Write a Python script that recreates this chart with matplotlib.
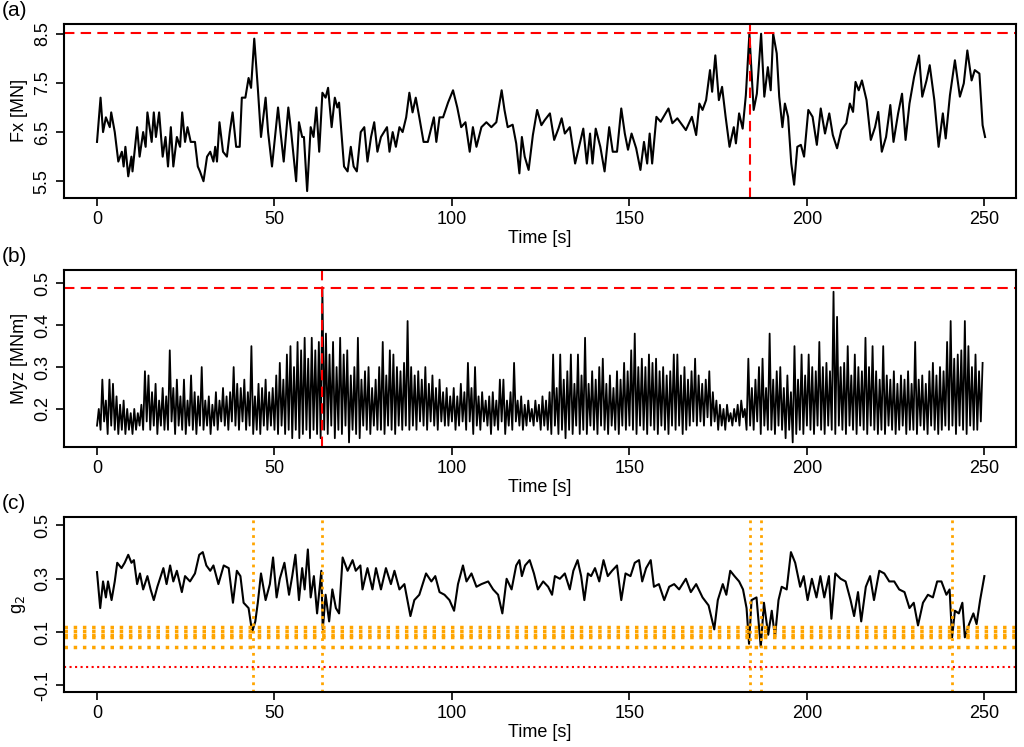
import numpy as np
import matplotlib.pyplot as plt

plt.rcParams['font.family'] = 'Liberation Sans'
plt.rcParams['axes.unicode_minus'] = False

# (a) Fx [MN]
fx_t = [0, 1, 1.7, 2.5, 3.6, 4, 5, 6, 7, 7.5, 8, 8.8, 9.7, 10, 11.3, 12, 13, 13.7, 14.2, 15.4,
        16, 16.6, 17.5, 18.5, 19.3, 20, 20.8, 21.5, 22.5, 23.4, 24, 24.8, 25.5, 26.4, 27.6, 28.4,
        29, 30, 31, 31.9, 32.8, 33.3, 33.8, 34.5, 35.5, 36.6, 37.4, 38.2, 39.2, 40.2, 40.8, 41.8,
        42.7, 43.4, 44.3, 45.3, 46.2, 47.5, 48.2, 49.3, 51, 51.7, 52.6, 53.9, 54.7, 56.1, 56.9,
        57.8, 58.3, 59.2, 60.2, 61, 61.8, 62.6, 63.5, 64.4, 65.1, 66.1, 67, 67.7, 68.2, 69.6, 70.6,
        71.5, 72.3, 73.2, 74.3, 75.3, 76.2, 77.2, 78.1, 79, 80, 81.7, 82.4, 83.3, 84.2, 85.2, 86.1,
        87.1, 88, 88.9, 89.8, 90.8, 92, 93.2, 94.9, 95.6, 96.5, 97.5, 98.9, 100.3, 101.5, 102.6,
        103.8, 105, 105.9, 106.9, 108.3, 109.7, 111.1, 112.5, 114, 114.8, 115.7, 117.1, 118.1, 119,
        119.7, 120.5, 121.6, 122.8, 124, 125.2, 126.1, 127.6, 128.8, 130, 130.9, 131.8, 133.2,
        134.7, 135.8, 137, 138, 138.9, 139.6, 140.5, 141.8, 143, 144.3, 145.3, 146.5, 147.7, 148.7,
        149.6, 150.6, 151.9, 153.1, 154.1, 155, 155.7, 156.4, 157.6, 158.8, 161, 162.1, 163.5,
        165.9, 167.6, 168.8, 169.7, 170.6, 171.6, 172.7, 173.3, 174.2, 175.2, 176.1, 177.1, 178.2,
        179.4, 180, 180.9, 181.9, 182.8, 183.8, 185, 185.9, 187.1, 188, 189, 189.8, 190.5, 191.5,
        192.2, 193.1, 193.8, 194.7, 195.6, 196.4, 197.3, 198.3, 199.2, 200.4, 201.6, 202.8, 203.9,
        205.1, 206.3, 207.3, 208.5, 209.7, 211.1, 212.1, 213, 213.7, 214.6, 215.5, 216.8, 218,
        219.2, 220.1, 221.1, 222.3, 223.5, 224.4, 225.7, 226.8, 227.8, 228.9, 230.2, 231.6, 232.5,
        233.7, 234.6, 235.9, 237.1, 238.3, 239.1, 240.3, 241.7, 243.1, 244.2, 245.2, 246.4, 247.3,
        248.6, 249.5, 250.2]
fx = [6.3, 7.2, 6.5, 6.8, 6.6, 6.9, 6.5, 5.9, 6.1, 5.8, 6.2, 5.6, 6.0, 5.7, 6.6, 6.0, 6.5, 6.2, 6.9, 6.3,
      6.9, 6.4, 6.9, 6.0, 6.4, 5.8, 6.6, 5.8, 6.4, 6.2, 6.9, 6.3, 6.6, 6.3, 6.3, 5.8,
      5.7, 5.5, 6.0, 6.1, 5.9, 6.2, 5.9, 6.7, 6.1, 6.0, 6.5, 6.9, 6.2, 6.2, 7.2, 7.2,
      7.6, 7.4, 8.4, 7.4, 6.4, 7.2, 6.5, 5.8, 7.0, 6.5, 5.9, 7.0, 6.5, 5.5, 6.7,
      6.4, 6.4, 5.3, 6.6, 6.4, 7.0, 6.1, 7.3, 7.2, 7.4, 6.6, 7.2, 7.0, 7.1, 5.8, 5.7,
      6.2, 5.8, 5.7, 6.5, 6.6, 5.9, 6.4, 6.7, 6.1, 6.4, 6.6, 6.1, 6.5, 6.2, 6.6, 6.5,
      6.8, 7.3, 6.9, 7.2, 6.8, 6.3, 6.3, 6.8, 6.3, 6.8, 6.8, 7.1, 7.35, 7.0, 6.6,
      6.7, 6.1, 6.6, 6.2, 6.6, 6.7, 6.6, 6.7, 7.35, 6.95, 6.6, 6.65, 6.27, 5.66,
      6.4, 6.0, 5.73, 6.44, 6.95, 6.64, 6.74, 6.88, 6.34, 6.57, 6.78, 6.47, 6.6,
      5.86, 6.2, 6.57, 5.86, 6.47, 5.86, 6.57, 6.2, 5.7, 6.6, 6.1, 6.1, 6.98, 6.47,
      6.14, 6.47, 6.17, 5.73, 6.3, 5.86, 6.47, 5.86, 6.81, 6.71, 6.98, 6.68, 6.78,
      6.54, 6.81, 6.44, 7.08, 6.95, 7.15, 7.76, 7.32, 8.06, 7.15, 7.42, 6.81, 6.2,
      6.6, 6.27, 6.88, 6.57, 7.25, 8.5, 6.95, 7.28, 8.5, 7.22, 7.82, 7.35, 8.5, 8.1,
      7.22, 6.6, 7.08, 6.81, 5.86, 5.43, 6.2, 6.24, 6.0, 6.95, 6.81, 6.24, 6.98,
      6.47, 6.88, 6.44, 6.17, 6.54, 6.68, 7.08, 6.91, 7.52, 7.35, 7.55, 7.15, 6.34,
      6.6, 6.91, 6.1, 6.4, 7.05, 6.3, 6.88, 7.28, 6.34, 7.08, 7.62, 8.06, 7.22,
      7.55, 7.86, 7.15, 6.2, 6.88, 6.37, 7.25, 7.96, 7.22, 7.49, 8.16, 7.55, 7.76,
      7.69, 6.64, 6.4]

# (b) Myz [MNm], per-second upper and lower swings
myz_hi = [0.20, 0.27, 0.22, 0.27, 0.26, 0.23, 0.21, 0.22, 0.20, 0.19,
          0.20, 0.19, 0.21, 0.29, 0.28, 0.24, 0.26, 0.22, 0.25, 0.23,
          0.34, 0.25, 0.27, 0.23, 0.27, 0.22, 0.28, 0.24, 0.23, 0.30,
          0.22, 0.23, 0.21, 0.24, 0.22, 0.25, 0.23, 0.24, 0.30, 0.26,
          0.25, 0.27, 0.24, 0.35, 0.23, 0.26, 0.25, 0.27, 0.24, 0.25,
          0.28, 0.31, 0.27, 0.33, 0.35, 0.30, 0.36, 0.34, 0.37, 0.32,
          0.37, 0.34, 0.36, 0.49, 0.38, 0.33, 0.36, 0.30, 0.37, 0.33,
          0.34, 0.28, 0.30, 0.37, 0.27, 0.29, 0.30, 0.25, 0.27, 0.30,
          0.36, 0.28, 0.34, 0.33, 0.30, 0.29, 0.31, 0.41, 0.30, 0.28,
          0.29, 0.27, 0.30, 0.26, 0.28, 0.25, 0.27, 0.24, 0.25, 0.23,
          0.25, 0.23, 0.26, 0.24, 0.31, 0.25, 0.30, 0.23, 0.24, 0.22,
          0.23, 0.24, 0.22, 0.27, 0.27, 0.22, 0.24, 0.31, 0.22, 0.23,
          0.21, 0.22, 0.20, 0.22, 0.21, 0.23, 0.22, 0.24, 0.33, 0.25,
          0.33, 0.27, 0.29, 0.33, 0.26, 0.33, 0.28, 0.37, 0.26, 0.29,
          0.27, 0.30, 0.32, 0.26, 0.28, 0.25, 0.29, 0.27, 0.31, 0.29,
          0.34, 0.38, 0.30, 0.32, 0.30, 0.33, 0.31, 0.32, 0.29, 0.30,
          0.28, 0.29, 0.33, 0.33, 0.28, 0.30, 0.27, 0.29, 0.32, 0.28,
          0.26, 0.27, 0.29, 0.24, 0.22, 0.21, 0.20, 0.21, 0.19, 0.20,
          0.21, 0.22, 0.20, 0.32, 0.25, 0.27, 0.30, 0.32, 0.25, 0.38,
          0.27, 0.29, 0.30, 0.25, 0.28, 0.24, 0.35, 0.27, 0.33, 0.28,
          0.33, 0.30, 0.29, 0.36, 0.30, 0.31, 0.29, 0.48, 0.42, 0.30,
          0.31, 0.35, 0.28, 0.33, 0.30, 0.29, 0.37, 0.30, 0.35, 0.29,
          0.27, 0.35, 0.28, 0.27, 0.29, 0.26, 0.28, 0.27, 0.29, 0.26,
          0.36, 0.27, 0.28, 0.26, 0.29, 0.31, 0.28, 0.30, 0.29, 0.36,
          0.41, 0.32, 0.33, 0.34, 0.41, 0.35, 0.30, 0.33, 0.29, 0.31]
myz_lo = [0.16, 0.15, 0.17, 0.14, 0.16, 0.15, 0.14, 0.15, 0.14, 0.15,
          0.14, 0.15, 0.16, 0.15, 0.17, 0.15, 0.16, 0.14, 0.16, 0.15,
          0.15, 0.17, 0.14, 0.16, 0.15, 0.14, 0.16, 0.15, 0.14, 0.16,
          0.15, 0.16, 0.14, 0.16, 0.15, 0.17, 0.16, 0.15, 0.17, 0.16,
          0.15, 0.17, 0.15, 0.16, 0.14, 0.15, 0.14, 0.16, 0.15, 0.16,
          0.15, 0.14, 0.16, 0.14, 0.15, 0.13, 0.15, 0.13, 0.14, 0.15,
          0.13, 0.15, 0.14, 0.13, 0.15, 0.14, 0.16, 0.13, 0.15, 0.14,
          0.16, 0.12, 0.15, 0.14, 0.13, 0.16, 0.15, 0.14, 0.16, 0.15,
          0.15, 0.14, 0.16, 0.15, 0.14, 0.16, 0.15, 0.16, 0.15, 0.16,
          0.15, 0.17, 0.16, 0.15, 0.17, 0.16, 0.15, 0.17, 0.16, 0.16,
          0.17, 0.15, 0.16, 0.17, 0.15, 0.17, 0.14, 0.16, 0.15, 0.17,
          0.16, 0.14, 0.16, 0.15, 0.17, 0.14, 0.16, 0.15, 0.17, 0.16,
          0.15, 0.16, 0.17, 0.16, 0.17, 0.15, 0.16, 0.15, 0.14, 0.16,
          0.14, 0.15, 0.13, 0.15, 0.14, 0.16, 0.14, 0.15, 0.14, 0.16,
          0.15, 0.14, 0.16, 0.15, 0.14, 0.16, 0.15, 0.14, 0.16, 0.15,
          0.16, 0.15, 0.14, 0.16, 0.15, 0.14, 0.16, 0.15, 0.14, 0.16,
          0.15, 0.14, 0.16, 0.15, 0.16, 0.14, 0.15, 0.16, 0.17, 0.16,
          0.17, 0.16, 0.18, 0.16, 0.17, 0.15, 0.16, 0.15, 0.17, 0.16,
          0.17, 0.16, 0.18, 0.15, 0.16, 0.15, 0.17, 0.14, 0.16, 0.15,
          0.15, 0.14, 0.16, 0.15, 0.13, 0.15, 0.12, 0.14, 0.15, 0.14,
          0.16, 0.15, 0.14, 0.16, 0.15, 0.14, 0.16, 0.15, 0.14, 0.16,
          0.15, 0.14, 0.16, 0.15, 0.14, 0.16, 0.15, 0.14, 0.16, 0.15,
          0.14, 0.15, 0.14, 0.16, 0.15, 0.14, 0.15, 0.16, 0.14, 0.15,
          0.15, 0.14, 0.16, 0.15, 0.14, 0.16, 0.15, 0.14, 0.15, 0.16,
          0.15, 0.16, 0.14, 0.16, 0.15, 0.14, 0.16, 0.15, 0.15, 0.17]

# (c) g2
g2_t = [0, 0.9, 1.7, 2.5, 3.1, 4.1, 5, 5.7, 6.9, 7.8, 8.8, 9.7, 10.4, 11.3, 12.1, 13, 14.2, 15.1,
        16, 17, 18.7, 19.6, 20.6, 21.5, 22.5, 23.9, 24.8, 26.2, 27.6, 28.8, 29.8, 30.8, 31.9,
        32.8, 34.2, 35.7, 37.1, 38.3, 39.4, 40.4, 41.3, 42.7, 43.7, 44.6, 45.3, 46.2, 47.5,
        48.7, 49.6, 50.6, 51.5, 52.8, 54.1, 55, 55.9, 56.9, 57.8, 58.5, 59.4, 60.2, 61.1, 62,
        63.2, 63.6, 64.4, 65.4, 66.3, 67.3, 68.2, 69.2, 70.6, 72, 72.9, 74.2, 74.8, 76.2, 77.6,
        78.6, 80, 81.4, 82.8, 83.8, 85.2, 86.6, 88.3, 89.4, 90.8, 92.7, 94.2, 95.3, 96.5, 97.9,
        99.3, 100.6, 101.7, 103.1, 104.1, 105.5, 106.9, 108.3, 110.2, 111.6, 113, 114.2, 115.4,
        116.8, 118.1, 119, 119.7, 120.6, 121.9, 123.1, 124.2, 125.7, 127.1, 128.2, 129, 130.4,
        131.8, 133.2, 134.2, 135.4, 136.4, 137.3, 138.3, 139.2, 140.3, 141.5, 142.7, 143.9,
        145.1, 146.5, 147.7, 148.9, 150.3, 151.5, 152.7, 153.6, 154.7, 156, 156.9, 158.3,
        159.8, 161.2, 162.6, 164, 165.9, 167.3, 168.8, 170.6, 172.3, 173, 173.9, 174.9, 176.3,
        177.3, 178.4, 179.6, 180.9, 182, 183, 183.7, 184.4, 185.8, 187, 187.9, 189.1, 190.1,
        191, 192, 192.9, 194.3, 195.5, 196.7, 198.1, 199.1, 200.2, 201.4, 202.7, 203.8, 204.9,
        206.2, 206.9, 208, 209.5, 210.9, 212.3, 213.3, 214.4, 215.3, 216.6, 217.8, 218.9,
        220.4, 221.8, 223.2, 224.6, 226, 227.5, 228.9, 230.1, 231.3, 232.7, 234.1, 235.5,
        236.7, 237.9, 239.3, 240.2, 240.9, 241.7, 242.8, 243.8, 244.5, 245.7, 246.9, 247.8,
        248.8, 250]
g2 = [0.325, 0.19, 0.29, 0.23, 0.29, 0.22, 0.29, 0.36, 0.34, 0.36, 0.39, 0.36, 0.37, 0.28, 0.32, 0.26, 0.31, 0.26,
      0.22, 0.27, 0.34, 0.28, 0.35, 0.29, 0.33, 0.25, 0.31, 0.29, 0.32, 0.39, 0.40, 0.35, 0.33,
      0.35, 0.28, 0.35, 0.34, 0.21, 0.33, 0.31, 0.21, 0.19, 0.10, 0.14, 0.21, 0.32, 0.22,
      0.28, 0.38, 0.23, 0.30, 0.36, 0.24, 0.31, 0.39, 0.22, 0.34, 0.26, 0.41, 0.23, 0.31, 0.17,
      0.33, 0.11, 0.24, 0.14, 0.26, 0.19, 0.17, 0.38, 0.33, 0.37, 0.33, 0.35, 0.26, 0.34, 0.26,
      0.34, 0.26, 0.34, 0.28, 0.33, 0.26, 0.28, 0.16, 0.22, 0.24, 0.32, 0.29, 0.31, 0.25, 0.24,
      0.22, 0.18, 0.28, 0.35, 0.29, 0.32, 0.27, 0.28, 0.29, 0.26, 0.24, 0.17, 0.30,
      0.26, 0.35, 0.37, 0.31, 0.35, 0.37, 0.32, 0.26, 0.29, 0.27, 0.24, 0.31, 0.30,
      0.32, 0.26, 0.33, 0.37, 0.31, 0.22, 0.32, 0.31, 0.34, 0.29, 0.37, 0.31,
      0.33, 0.35, 0.22, 0.32, 0.31, 0.36, 0.37, 0.29, 0.34, 0.37, 0.27, 0.28,
      0.22, 0.27, 0.28, 0.26, 0.30, 0.25, 0.28, 0.23, 0.20, 0.16, 0.11, 0.22, 0.28,
      0.24, 0.33, 0.31, 0.29, 0.26, 0.19, 0.056, 0.22, 0.23, 0.044, 0.21, 0.09, 0.18,
      0.08, 0.22, 0.27, 0.26, 0.40, 0.36, 0.27, 0.31, 0.22, 0.30, 0.23, 0.31, 0.23,
      0.31, 0.15, 0.32, 0.30, 0.29, 0.22, 0.16, 0.25, 0.14, 0.27, 0.31, 0.22,
      0.33, 0.32, 0.29, 0.29, 0.26, 0.25, 0.19, 0.21, 0.125, 0.21, 0.24, 0.23,
      0.29, 0.29, 0.24, 0.26, 0.08, 0.18, 0.17, 0.21, 0.08, 0.13, 0.17, 0.13,
      0.22, 0.31]

fx_limit = 8.52
fx_peak_t = 184
myz_limit = 0.49
myz_peak_t = 63.5
g2_levels = [0.12, 0.105, 0.09, 0.08, 0.045]
g2_red = -0.03
g2_events = [44, 63.5, 184, 187, 241]

# interleave Myz swings
myz_t = []
myz = []
for i in range(len(myz_hi)):
    myz_t += [i, i + 0.5]
    myz += [myz_lo[i], myz_hi[i]]

fig = plt.figure(figsize=(10.24, 7.47), dpi=100)
ax_a = fig.add_axes([0.0625, 0.735, 0.930, 0.233])
ax_b = fig.add_axes([0.0625, 0.4016, 0.930, 0.237])
ax_c = fig.add_axes([0.0625, 0.0736, 0.930, 0.234])

ax_a.plot(fx_t, fx, color='black', lw=1.5)
ax_a.axhline(fx_limit, color='red', ls=(0, (5, 3)), lw=1.5)
ax_a.axvline(fx_peak_t, color='red', ls=(0, (5, 3)), lw=1.5)
ax_a.set_ylim(5.16, 8.7)
ax_a.set_yticks([5.5, 6.5, 7.5, 8.5])
ax_a.set_ylabel('Fx [MN]')

ax_b.plot(myz_t, myz, color='black', lw=1.3)
ax_b.axhline(myz_limit, color='red', ls=(0, (5, 3)), lw=1.5)
ax_b.axvline(myz_peak_t, color='red', ls=(0, (5, 3)), lw=1.5)
ax_b.set_ylim(0.109, 0.532)
ax_b.set_yticks([0.2, 0.3, 0.4, 0.5])
ax_b.set_ylabel('Myz [MNm]')

ax_c.plot(g2_t, g2, color='black', lw=1.5)
for lev in g2_levels:
    ax_c.axhline(lev, color='orange', ls=':', lw=2.5)
for ev in g2_events:
    ax_c.axvline(ev, color='orange', ls=':', lw=2)
ax_c.axhline(g2_red, color='red', ls=':', lw=1.5)
ax_c.set_ylim(-0.125, 0.531)
ax_c.set_yticks([-0.1, 0.1, 0.3, 0.5])
ax_c.set_ylabel('g$_2$')

for ax, lab in zip([ax_a, ax_b, ax_c], ['(a)', '(b)', '(c)']):
    ax.set_xlim(-9.3, 259)
    ax.set_xticks([0, 50, 100, 150, 200, 250])
    ax.set_xlabel('Time [s]', fontsize=13, labelpad=1)
    ax.yaxis.label.set_size(13)
    ax.tick_params(labelsize=13, length=6, width=1.2)
    for lbl in ax.get_yticklabels():
        lbl.set_rotation(90)
        lbl.set_va('center')
    for s in ax.spines.values():
        s.set_linewidth(1.5)
    pos = ax.get_position()
    fig.text(0.002, pos.y1 + 0.005, lab, fontsize=15, va='bottom')

fig.savefig('out.png', dpi=100)
